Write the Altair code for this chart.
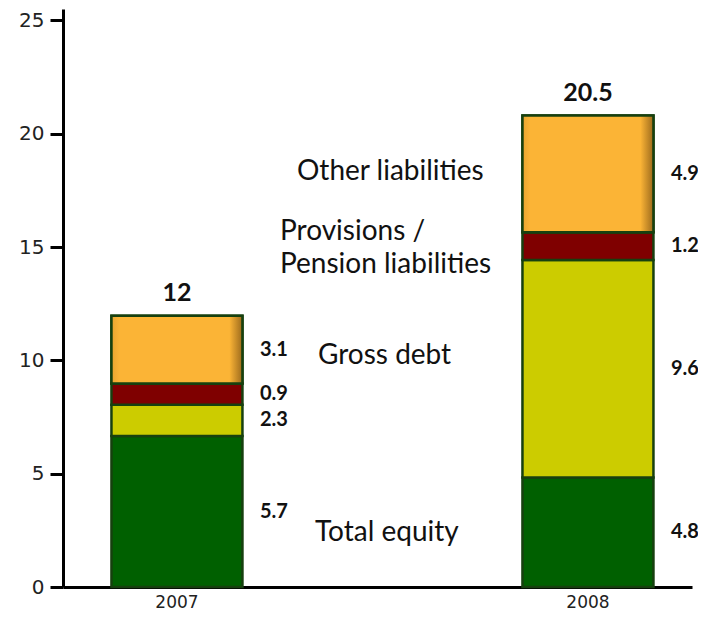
import altair as alt
import pandas as pd

# ---- data ----
years = ["2007", "2008"]
components = ["Total equity", "Gross debt", "Provisions / Pension liabilities", "Other liabilities"]
# drawn segment heights (bottom to top)
heights_2007 = [6.66, 1.38, 0.94, 2.99]
heights_2008 = [4.83, 9.60, 1.22, 5.15]
# printed segment labels
labels_2007 = ["5.7", "2.3", "0.9", "3.1"]
labels_2008 = ["4.8", "9.6", "1.2", "4.9"]
# printed totals
total_labels = ["12", "20.5"]
colors = ["#006000", "#cccc00", "#7f0000", "#fbb436"]

rows = []
for yr, hs, ls in [("2007", heights_2007, labels_2007), ("2008", heights_2008, labels_2008)]:
    for i, (c, h, l) in enumerate(zip(components, hs, ls)):
        rows.append({"year": yr, "component": c, "value": h, "label": l, "order": i})
df = pd.DataFrame(rows)

tot = df.groupby("year", as_index=False)["value"].sum()
tot["label"] = total_labels

# category annotations
ann_text = ["Other liabilities", "Provisions /", "Pension liabilities", "Gross debt", "Total equity"]
ann_y = [18.3, 15.67, 14.2, 10.19, 2.37]
ann_df = pd.DataFrame({"text": ann_text, "y": ann_y})

FONT = "Lato"

x_enc = alt.X("year:N", title=None,
              scale=alt.Scale(domain=years, paddingInner=0.681, paddingOuter=0.1057, align=0.557),
              axis=alt.Axis(labelAngle=0, ticks=False, domainColor="black", domainWidth=3,
                            labelFont="DejaVu Sans", labelFontSize=17, labelColor="#222222",
                            labelPadding=7))
y_scale = alt.Scale(domain=[0, 25.5], nice=False)
y_axis = alt.Axis(values=[0, 5, 10, 15, 20, 25], grid=False, tickSize=13, tickWidth=3,
                  tickColor="black", domainColor="black", domainWidth=3,
                  labelFont="DejaVu Sans", labelFontSize=20, labelColor="#222222",
                  labelPadding=6, title=None)

base = alt.Chart(df).transform_stack(
    stack="value", groupby=["year"], sort=[alt.SortField("order")], as_=["y0", "y1"]
).transform_calculate(mid="(datum.y0 + datum.y1) / 2")

bars = base.mark_bar(size=131, stroke="#17400f", strokeWidth=2.5).encode(
    x=x_enc,
    y=alt.Y("y0:Q", scale=y_scale, axis=y_axis),
    y2="y1:Q",
    color=alt.Color("component:N", scale=alt.Scale(domain=components, range=colors), legend=None),
)

gradient = {
    "gradient": "linear", "x1": 0, "x2": 1, "y1": 0, "y2": 0,
    "stops": [
        {"offset": 0, "color": "#e9a530"},
        {"offset": 0.06, "color": "#fbb436"},
        {"offset": 0.9, "color": "#fbb436"},
        {"offset": 1, "color": "#9c6a1c"},
    ],
}
other_bevel = base.transform_filter(alt.datum.component == "Other liabilities").mark_bar(
    size=131, stroke="#17400f", strokeWidth=2.5, color=gradient
).encode(x=x_enc, y=alt.Y("y0:Q", scale=y_scale, axis=y_axis), y2="y1:Q")

seg_labels = base.mark_text(align="left", baseline="middle", dx=83, font=FONT,
                            fontWeight="bold", fontSize=20, color="#111111").encode(
    x=x_enc, y=alt.Y("mid:Q", scale=y_scale, axis=y_axis), text="label:N")

tot_labels = alt.Chart(tot).mark_text(baseline="bottom", dy=-10, font=FONT,
                                      fontWeight="bold", fontSize=25, color="#111111").encode(
    x=x_enc, y=alt.Y("value:Q", scale=y_scale, axis=y_axis), text="label:N")

def ann(i, xpx):
    return alt.Chart(ann_df.iloc[[i]]).mark_text(align="left", baseline="middle", font=FONT,
                                                 fontSize=28, color="#111111").encode(
        x=alt.value(xpx), y=alt.Y("y:Q", scale=y_scale, axis=y_axis), text="text:N")

anns = [ann(0, 234), ann(1, 217), ann(2, 217), ann(3, 255), ann(4, 252)]

chart = alt.layer(bars, other_bevel, seg_labels, tot_labels, *anns).properties(
    width=629, height=578,
    autosize=alt.AutoSizeParams(type="none"),
    padding={"left": 55, "top": 1, "right": 6, "bottom": 25},
).configure_view(stroke=None)

chart.save("out.html", embed_options={"renderer": "svg", "actions": False})
